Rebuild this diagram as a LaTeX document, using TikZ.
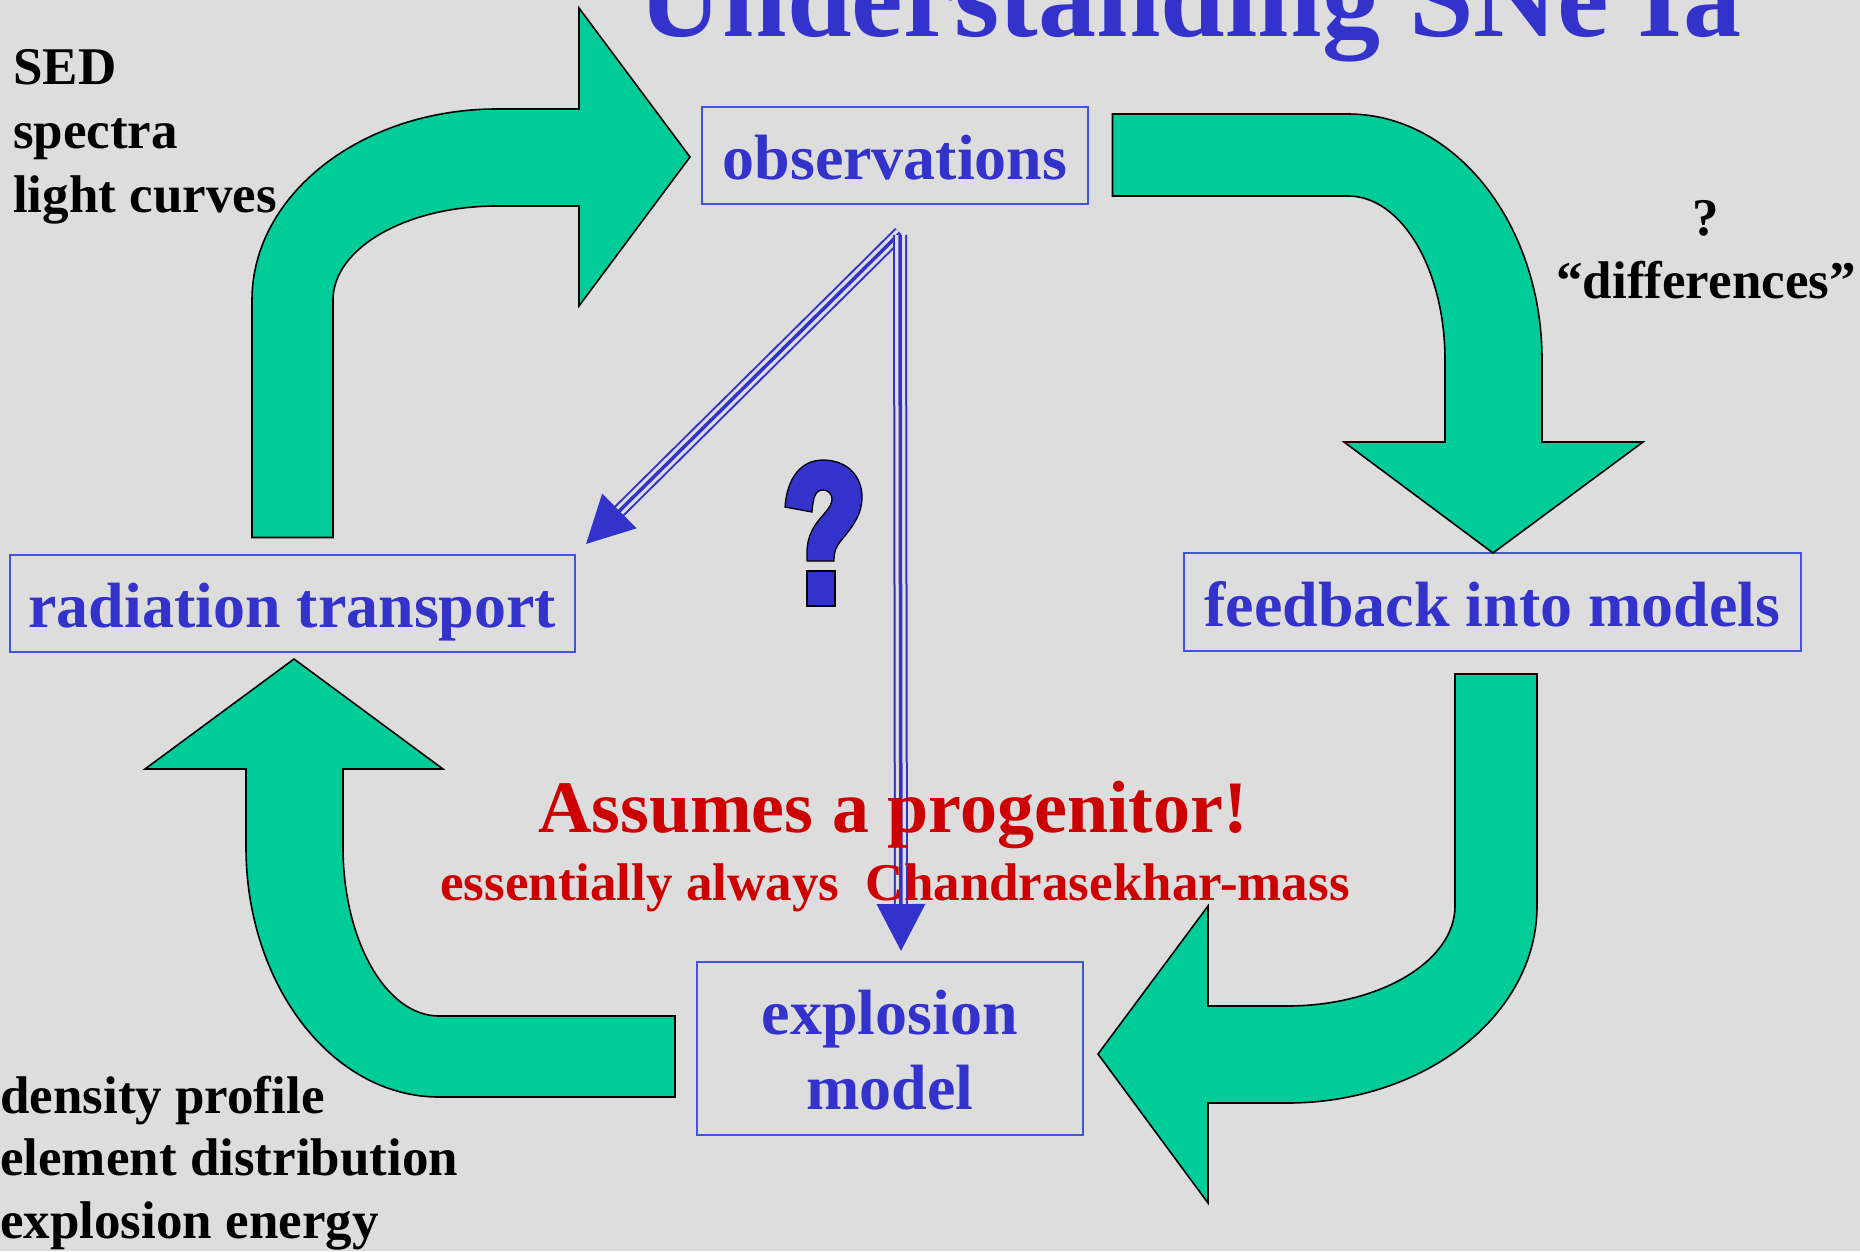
\documentclass[tikz,border=0pt]{standalone}
\usepackage{fontspec}
\setmainfont{Liberation Serif}
\usetikzlibrary{arrows.meta}
\definecolor{bg}{RGB}{221,221,221}
\definecolor{arrowgreen}{RGB}{0,204,153}
\definecolor{textblue}{RGB}{51,51,204}
\definecolor{boxblue}{RGB}{64,84,224}
\definecolor{alertred}{RGB}{204,0,0}
\tikzset{
  box/.style={draw=boxblue, line width=2pt, inner sep=0pt, text=textblue,
    font=\fontsize{64}{75}\selectfont\bfseries, align=center},
  blacktext/.style={inner sep=0pt, text=black, font=\fontsize{53}{64}\selectfont\bfseries},
  bigarrow/.style={fill=arrowgreen, draw=black, line width=1.6pt, line join=miter},
  tripleouter/.style={draw=textblue, line width=2pt, double=bg, double distance=10pt, shorten >=44pt},
  triplecore/.style={draw=textblue, line width=3.5pt, -{Triangle[length=47pt,width=48pt]}},
}
\begin{document}
\begin{tikzpicture}[x=1pt,y=-1pt]
\useasboundingbox (0,0) rectangle (1860,1251);
\fill[bg] (0,0) rectangle (1860,1251);
\clip (0,0) rectangle (1860,1251);

% title
\node[anchor=base, inner sep=0pt, text=textblue, font=\fontsize{116}{120}\selectfont\bfseries] (title) at (1190,36) {Understanding SNe Ia};

% boxes
\node[box, minimum width=386pt, minimum height=97pt, text height=60pt, text depth=13pt] (obs) at (895,155.5) {observations};
\node[box, minimum width=565.5pt, minimum height=97pt, text height=60pt, text depth=13pt] (rt) at (292.25,603.5) {radiation transport};
\node[box, minimum width=617pt, minimum height=98pt, text height=60pt, text depth=12pt] (fb) at (1492.5,602) {feedback into models};
\node[box, minimum width=386pt, minimum height=173pt, text height=135pt, text depth=14pt] (em) at (890,1048.5) {explosion\\model};

% green block arrows
\draw[bigarrow] (252,537.5) -- (252,300) .. controls (252,194.5) and (361.7,109) .. (497,109)
  -- (579,109) -- (579,8) -- (690,157) -- (579,306) -- (579,206) -- (497,206)
  .. controls (406.4,206) and (333,248.1) .. (333,300) -- (333,537.5) -- cycle;
\draw[bigarrow] (1112.5,114) -- (1348,114) .. controls (1455.1,114) and (1542,224.1) .. (1542,360)
  -- (1542,442) -- (1643,442) -- (1493,553) -- (1344,442) -- (1445,442) -- (1445,360)
  .. controls (1445,269.4) and (1401.6,196) .. (1348,196) -- (1112.5,196) -- cycle;
\draw[bigarrow] (1455,674) -- (1537,674) -- (1537,906) .. controls (1537,1014.8) and (1425.1,1103) .. (1287,1103)
  -- (1208,1103) -- (1208,1203) -- (1098,1054) -- (1208,906) -- (1208,1006) -- (1287,1006)
  .. controls (1379.8,1006) and (1455,961.2) .. (1455,906) -- cycle;
\draw[bigarrow] (675,1016) -- (675,1097) -- (439,1097) .. controls (332.4,1097) and (246,985.1) .. (246,847)
  -- (246,769) -- (145,769) -- (294,659) -- (443,769) -- (343,769) -- (343,847)
  .. controls (343,940.3) and (386,1016) .. (439,1016) -- cycle;

% side texts (anchor base = last line)
\node[blacktext, anchor=base west, align=left] (out1) at (13,212) {SED\\spectra\\light curves};
\node[blacktext, anchor=base west, align=left, font=\fontsize{53}{62.5}\selectfont\bfseries] (out2) at (0,1238) {density profile\\element distribution\\explosion energy};
\node[blacktext, anchor=base, align=center, font=\fontsize{53}{63}\selectfont\bfseries] (diff) at (1706,298) {?\\“differences”};

% blue triple arrows
\coordinate (src) at (900,233);
\coordinate (tipRT) at ([shift={(10,-10)}]rt.north east);
\coordinate (tipEM) at (901,951);
\draw[tripleouter] (src) -- (tipRT);
\draw[triplecore] (src) -- (tipRT);
\draw[tripleouter] (src |- 0,235) -- (tipEM);
\draw[triplecore] (src |- 0,235) -- (tipEM);

% red texts
\node[anchor=base, inner sep=0pt, text=alertred, font=\fontsize{74}{80}\selectfont\bfseries] (assume) at (893,832) {Assumes a progenitor!};
\node[anchor=base, inner sep=0pt, text=alertred, font=\fontsize{53}{60}\selectfont\bfseries] (chandra) at (895,900) {essentially always~~Chandrasekhar-mass};

% big question mark
\draw[fill=textblue, draw=black, line width=1.3pt] (785,507) .. controls (787,478) and (801,460) .. (823,460)
  .. controls (847,460) and (862,476) .. (862,497)
  .. controls (862,515) and (852,527) .. (844,537)
  .. controls (836,546) and (834,551) .. (834,561)
  -- (807,561) -- (807,552)
  .. controls (807,536) and (814,525) .. (824,514)
  .. controls (830,507) and (832,503) .. (832,499)
  .. controls (832,494) and (828,490) .. (823,490)
  .. controls (816,490) and (813,496) .. (812,512) -- cycle;
\draw[fill=textblue, draw=black, line width=1.3pt] (807,571) rectangle (835,606);
\end{tikzpicture}
\end{document}
